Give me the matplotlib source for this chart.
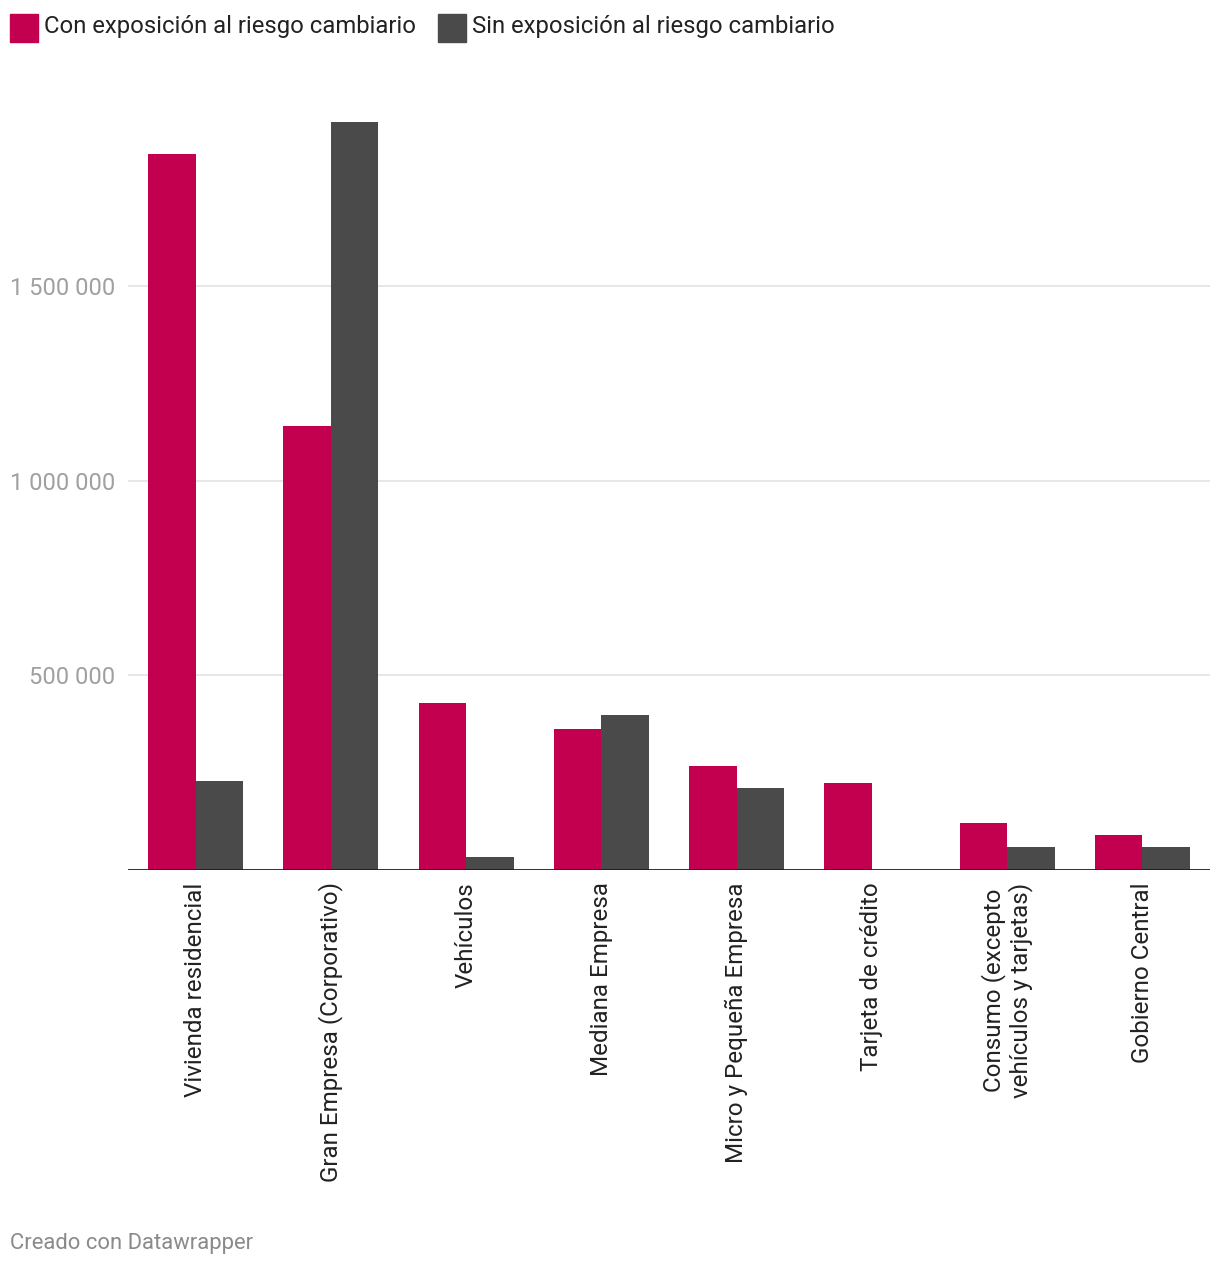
import matplotlib.pyplot as plt
from matplotlib.patches import Rectangle
import numpy as np

plt.rcParams['font.family'] = ['Roboto', 'DejaVu Sans']

categories = ["Vivienda residencial", "Gran Empresa (Corporativo)", "Vehículos",
              "Mediana Empresa", "Micro y Pequeña Empresa", "Tarjeta de crédito",
              "Consumo (excepto\nvehículos y tarjetas)", "Gobierno Central"]
con_riesgo = [1839000, 1140000, 429000, 362000, 267000, 223000, 121000, 90000]
sin_riesgo = [229000, 1921000, 33000, 398000, 211000, 0, 59000, 59000]
series_names = ["Con exposición al riesgo cambiario", "Sin exposición al riesgo cambiario"]
yticks = [500000, 1000000, 1500000]
ytick_labels = ["500 000", "1 000 000", "1 500 000"]

c_con = "#c3004f"
c_sin = "#4a4a4a"

W, H = 1220, 1268
fig = plt.figure(figsize=(W / 100, H / 100), dpi=100)
ax = fig.add_axes([128 / W, (H - 870) / H, 1082 / W, 759 / H])

x = np.arange(len(categories))
bw = 0.352
ax.bar(x - bw / 2, con_riesgo, width=bw, color=c_con, zorder=3)
ax.bar(x + bw / 2, sin_riesgo, width=bw, color=c_sin, zorder=3)

ax.set_xlim(-0.5, len(categories) - 0.5)
ax.set_ylim(0, 1950000)
ax.set_yticks(yticks)
ax.set_yticklabels(ytick_labels, fontsize=17, color="#a0a0a0")
ax.tick_params(axis="y", length=0, pad=9)
ax.grid(axis="y", color="#e3e3e3", linewidth=1.2, zorder=0)
ax.axhline(0, color="#1d1d1d", linewidth=2, zorder=4)

ax.set_xticks(x)
ax.set_xticklabels(categories, rotation=90, fontsize=17.4, color="#222222",
                   va="top", ha="center", multialignment="center",
                   linespacing=1.1)
ax.tick_params(axis="x", length=0, pad=9)

for s in ax.spines.values():
    s.set_visible(False)

# legend drawn by hand, Datawrapper style
legend_x = [10, 438]
for lx, name, col in zip(legend_x, series_names, [c_con, c_sin]):
    fig.patches.append(Rectangle((lx / W, 1 - 42 / H), 28 / W, 28 / H,
                                 transform=fig.transFigure, color=col))
    fig.text((lx + 34) / W, 1 - 27 / H, name, fontsize=17.2, color="#222222",
             va="center", ha="left")

fig.text(10 / W, 1 - 1243 / H, "Creado con Datawrapper", fontsize=15.8,
         color="#8a8a8a", va="center", ha="left")

fig.savefig("out.png", dpi=100, facecolor="white")
